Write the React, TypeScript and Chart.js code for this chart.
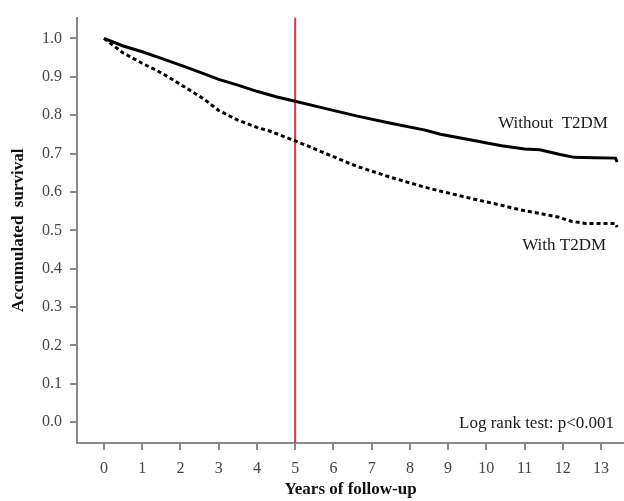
import React, { useEffect, useRef } from "react";
import { Chart, registerables } from "chart.js";

Chart.register(...registerables);

// Kaplan–Meier style survival curves
const YEARS_WITHOUT = [0, 0.5, 1.0, 1.5, 2.0, 2.5, 3.0, 3.5, 4.0, 4.5, 5.0, 5.8, 6.6, 7.5, 8.4, 8.8, 9.6, 10.4, 11.0, 11.4, 11.9, 12.3, 12.8, 13.38, 13.42];
const SURV_WITHOUT = [1.0, 0.98, 0.965, 0.948, 0.93, 0.912, 0.893, 0.878, 0.862, 0.848, 0.836, 0.817, 0.798, 0.779, 0.761, 0.75, 0.735, 0.72, 0.712, 0.71, 0.698, 0.69, 0.689, 0.688, 0.678];

const YEARS_WITH = [0, 0.5, 1.0, 1.5, 2.0, 2.6, 3.0, 3.5, 4.0, 4.35, 5.0, 5.8, 6.6, 7.5, 8.4, 8.8, 9.6, 10.4, 10.9, 11.5, 11.9, 12.2, 12.6, 13.38, 13.42];
const SURV_WITH = [1.0, 0.962, 0.935, 0.91, 0.88, 0.843, 0.812, 0.787, 0.768, 0.758, 0.733, 0.7, 0.667, 0.638, 0.612, 0.602, 0.583, 0.565, 0.553, 0.542, 0.534, 0.524, 0.518, 0.518, 0.508];

const X_TICKS = [0, 1, 2, 3, 4, 5, 6, 7, 8, 9, 10, 11, 12, 13];
const Y_TICKS = [0.0, 0.1, 0.2, 0.3, 0.4, 0.5, 0.6, 0.7, 0.8, 0.9, 1.0];

const CUTOFF_YEAR = 5;

const LABEL_WITHOUT = "Without  T2DM";
const LABEL_WITH = "With T2DM";
const LOG_RANK_TEXT = "Log rank test: p<0.001";
const X_TITLE = "Years of follow-up";
const Y_TITLE = "Accumulated  survival";

const X_MIN = -0.706;
const X_MAX = 13.6;
const Y_MIN = -0.054;
const Y_MAX = 1.054;

const SERIF = "'Liberation Serif', 'Times New Roman', serif";
const AXIS_COLOR = "#8a8a8a";

const textPlugin = {
  id: "kmText",
  afterDatasetsDraw(chart: any) {
    const { ctx, scales } = chart;
    const xs = scales.x;
    const ys = scales.y;
    const items = [
      { text: LABEL_WITHOUT, x: 13.18, y: 0.778 },
      { text: LABEL_WITH, x: 13.13, y: 0.461 },
      { text: LOG_RANK_TEXT, x: 13.34, y: -0.003 },
    ];
    ctx.save();
    ctx.font = `17px ${SERIF}`;
    ctx.fillStyle = "#1a1a1a";
    ctx.textAlign = "right";
    ctx.textBaseline = "middle";
    for (const it of items) {
      ctx.fillText(it.text, xs.getPixelForValue(it.x), ys.getPixelForValue(it.y));
    }
    ctx.restore();
  },
};

export default function App() {
  const ref = useRef<HTMLCanvasElement>(null);

  useEffect(() => {
    document.body.style.margin = "0";
    const canvas = ref.current;
    if (!canvas) return;
    const chart = new Chart(canvas, {
      type: "scatter",
      data: {
        datasets: [
          {
            label: "Without T2DM",
            data: YEARS_WITHOUT.map((x, i) => ({ x, y: SURV_WITHOUT[i] })),
            showLine: true,
            borderColor: "#000",
            borderWidth: 3,
            pointRadius: 0,
            tension: 0,
          },
          {
            label: "With T2DM",
            data: YEARS_WITH.map((x, i) => ({ x, y: SURV_WITH[i] })),
            showLine: true,
            borderColor: "#000",
            borderWidth: 3,
            borderDash: [4, 3],
            pointRadius: 0,
            tension: 0,
          },
          {
            label: "cutoff",
            data: [
              { x: CUTOFF_YEAR, y: Y_MIN },
              { x: CUTOFF_YEAR, y: Y_MAX },
            ],
            showLine: true,
            borderColor: "#e8302f",
            borderWidth: 2,
            pointRadius: 0,
          },
        ],
      },
      options: {
        animation: false,
        responsive: false,
        layout: { padding: { top: 13, right: 0, left: 0, bottom: 0 } },
        plugins: {
          legend: { display: false },
          tooltip: { enabled: false },
        },
        scales: {
          x: {
            type: "linear",
            min: X_MIN,
            max: X_MAX,
            afterBuildTicks: (s: any) => {
              s.ticks = X_TICKS.map((v) => ({ value: v }));
            },
            afterFit: (s: any) => {
              s.height = 58;
            },
            grid: {
              drawOnChartArea: false,
              drawTicks: true,
              tickLength: 7,
              color: AXIS_COLOR,
              lineWidth: 2,
            },
            border: { display: true, color: AXIS_COLOR, width: 2 },
            ticks: {
              font: { family: SERIF, size: 16 },
              color: "#444",
              padding: 9,
              autoSkip: false,
              maxRotation: 0,
              callback: (v: any) => String(v),
            },
            title: {
              display: true,
              text: X_TITLE,
              font: { family: SERIF, size: 17, weight: "bold" },
              color: "#111",
              padding: { top: 0, bottom: 1 },
            },
          },
          y: {
            type: "linear",
            min: Y_MIN,
            max: Y_MAX,
            afterBuildTicks: (s: any) => {
              s.ticks = Y_TICKS.map((v) => ({ value: v }));
            },
            afterFit: (s: any) => {
              s.width = 77;
            },
            grid: {
              drawOnChartArea: false,
              drawTicks: true,
              tickLength: 7,
              color: AXIS_COLOR,
              lineWidth: 2,
            },
            border: { display: true, color: AXIS_COLOR, width: 2 },
            ticks: {
              font: { family: SERIF, size: 16 },
              color: "#444",
              padding: 8,
              callback: (v: any) => Number(v).toFixed(1),
            },
            title: {
              display: true,
              text: Y_TITLE,
              font: { family: SERIF, size: 17, weight: "bold" },
              color: "#111",
              padding: { top: 8, bottom: 0 },
            },
          },
        },
      },
      plugins: [textPlugin],
    } as any);
    return () => chart.destroy();
  }, []);

  return (
    <div style={{ position: "fixed", left: 0, top: 0, width: 624, height: 501, background: "#fff" }}>
      <canvas ref={ref} width={624} height={501} style={{ display: "block" }} />
    </div>
  );
}
